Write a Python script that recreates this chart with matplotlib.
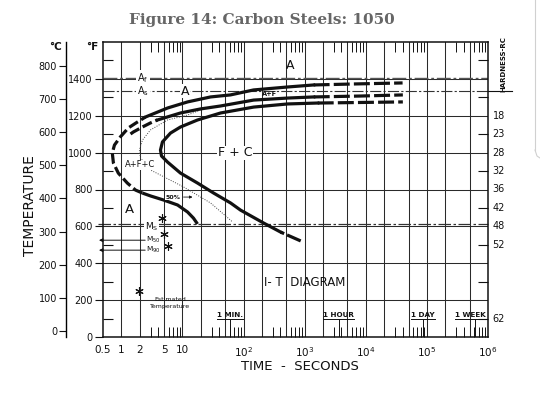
import matplotlib
matplotlib.use("Agg")
import matplotlib.pyplot as plt
from matplotlib.lines import Line2D

# ---------------- data (time in s, temperature in deg F) ----------------
# ferrite-start curve (outer curve)
fs_low_t = [17.6, 15.1, 12.1, 8.3, 4.9, 3.0, 2.2]
fs_low_T = [613, 645, 678, 716, 743, 765, 781]
fs_nose_t = [2.2, 1.7, 1.25, 0.89, 0.74, 0.71, 0.77, 0.96, 1.3, 1.83, 2.47]
fs_nose_T = [781, 797, 835, 889, 944, 998, 1041, 1085, 1134, 1166, 1193]
fs_up_t = [2.47, 5.7, 12.1, 28.8, 61, 146, 526, 1400]
fs_up_T = [1193, 1242, 1275, 1302, 1313, 1340, 1356, 1367]
fs_tail_t = [1400, 5700, 40000]
fs_tail_T = [1367, 1372, 1378]

# carbide-start curve (middle curve)
cs_dash_t = [1.41, 1.57, 2.21, 2.99, 3.89]
cs_dash_T = [1101, 1112, 1139, 1161, 1177]
cs_up_t = [3.89, 9.27, 19.7, 42, 146, 526, 1405]
cs_up_T = [1177, 1215, 1237, 1253, 1285, 1296, 1302]
cs_tail_t = [1405, 8280, 40400]
cs_tail_T = [1302, 1307, 1313]

# finish curve
fin_tail_t = [1633, 8280, 40400]
fin_tail_T = [1269, 1272, 1275]
fin_t = [1633, 526, 146, 42, 17.6, 9.27, 6.36, 4.70, 4.36, 4.53, 5.68, 9.27, 17.6, 32.2, 61.2, 89.3, 213, 404]
fin_T = [1269, 1264, 1247, 1215, 1177, 1139, 1106, 1058, 1014, 982, 949, 889, 835, 781, 727, 688, 618, 569]
fin_end_t = [404, 860]
fin_end_T = [569, 521]

# 50 % transformation (dotted)
half_t = [19.7, 12.1, 5.68, 2.99, 2.21, 1.97, 2.05, 2.99, 10.4, 28.8, 66]
half_T = [1231, 1204, 1177, 1123, 1068, 1014, 971, 906, 814, 727, 624]

# critical temperatures (deg F)
Af_T = 1405
As_T = 1334
Ms_T = 613
M50_T = 525
M90_T = 471

# estimated martensite temperatures (asterisks)
est_t = [4.7, 4.9, 5.9]
est_T = [645, 559, 494]
legend_star_t = [1.95]
legend_star_T = [249]

# axis tick values
x_tick_vals = [0.5, 1, 2, 5, 10, 1e2, 1e3, 1e4, 1e5, 1e6]
x_tick_labels = ["0.5", "1", "2", "5", "10", "10$^2$", "10$^3$", "10$^4$", "10$^5$", "10$^6$"]
f_ticks = [0, 200, 400, 600, 800, 1000, 1200, 1400]
c_ticks = [0, 100, 200, 300, 400, 500, 600, 700, 800]
hrc_vals = ["18", "23", "28", "32", "36", "42", "48", "52", "62"]
hrc_T = [1200, 1100, 1000, 900, 800, 700, 600, 500, 100]

# time markers
mark_t = [60, 3600, 86400, 604800]
mark_lab = ["1 MIN.", "1 HOUR", "1 DAY", "1 WEEK"]
mark_lab_t = [60, 3600, 86400, 510000]

# ---------------- figure ----------------
INK = "#111111"
GRID = "#2a2a2a"
plt.rcParams['font.family'] = ['DejaVu Sans']

W, H = 540, 393
fig = plt.figure(figsize=(W / 100, H / 100), dpi=100)
L, R, B, T = 103, 488, 337, 42
ax = fig.add_axes([L / W, 1 - B / H, (R - L) / W, (B - T) / H])
ax.set_xscale('log')
ax.set_xlim(0.5, 1e6)
ax.set_ylim(0, 1600)
for s in ax.spines.values():
    s.set_linewidth(1.1)
    s.set_color(INK)

# grid lines (1, 2, 5 per decade; every 200 F)
for k in range(0, 6):
    for m in (1, 2, 5):
        ax.axvline(m * 10 ** k, color=GRID, lw=0.75, zorder=1)
for g in range(200, 1600, 200):
    ax.axhline(g, color=GRID, lw=0.75, zorder=1)

# x ticks
ax.set_xticks(x_tick_vals)
ax.set_xticklabels(x_tick_labels)
minor_x = [m * 10 ** k for k in range(0, 6) for m in (3, 4, 6, 7, 8, 9)]
ax.set_xticks(minor_x, minor=True)
ax.xaxis.set_minor_formatter(plt.NullFormatter())
ax.tick_params(axis='x', which='major', length=0, labelsize=7.5, pad=6, colors=INK)
ax.tick_params(axis='x', which='minor', direction='in', length=7, width=0.7,
               top=True, bottom=True, colors=INK)

# y ticks (F)
ax.set_yticks(f_ticks)
ax.set_yticks(list(range(100, 1600, 200)), minor=True)
ax.yaxis.set_minor_formatter(plt.NullFormatter())
ax.tick_params(axis='y', which='major', direction='out', length=6, width=0.8,
               labelsize=7, pad=1.5, colors=INK)
ax.tick_params(axis='y', which='minor', direction='in', length=7, width=0.8,
               left=True, right=True, colors=INK)

# Celsius axis
sec = ax.secondary_yaxis(-0.096, functions=(lambda f: (f - 32) * 5 / 9,
                                             lambda c: c * 9 / 5 + 32))
sec.set_yticks(c_ticks)
sec.tick_params(direction='out', length=5, width=0.8, labelsize=7, pad=1.5, colors=INK)
sec.spines['left'].set_linewidth(1.0)

# hardness labels on right
for v, t in zip(hrc_vals, hrc_T):
    ax.text(1.012, t, v, transform=ax.get_yaxis_transform(), ha='left', va='center',
            fontsize=7, color=INK, clip_on=False)
fig.text(503 / W, 1 - 64 / H, "HARDNESS-RC", rotation=90, ha='center', va='center',
         fontsize=5, fontweight='bold', color=INK)
fig.add_artist(Line2D([488 / W, 512 / W], [1 - 91 / H, 1 - 91 / H], color=INK, lw=0.8))

# critical temperature lines
ax.axhline(Af_T, color="#555555", lw=1.0, ls=(0, (10, 2, 2, 2)), zorder=2)
ax.axhline(As_T, color="#333333", lw=0.8, ls=(0, (10, 2, 2, 2)), zorder=2)
ax.plot([0.42, 1e6], [Ms_T, Ms_T], color="#333333", lw=0.9, ls=(0, (10, 2, 2, 2)),
        zorder=2, clip_on=False)

# transformation curves
lw = 2.3
dash = (0, (3.2, 1.2))
ax.plot(fs_low_t, fs_low_T, color=INK, lw=lw, solid_capstyle='butt', zorder=4)
ax.plot(fs_nose_t, fs_nose_T, color=INK, lw=lw, ls=dash, zorder=4)
ax.plot(fs_up_t, fs_up_T, color=INK, lw=lw, zorder=4)
ax.plot(fs_tail_t, fs_tail_T, color=INK, lw=lw, ls=(0, (5, 1.3)), zorder=4)

ax.plot(cs_dash_t, cs_dash_T, color=INK, lw=lw, ls=dash, zorder=4)
ax.plot(cs_up_t, cs_up_T, color=INK, lw=lw, zorder=4)
ax.plot(cs_tail_t, cs_tail_T, color=INK, lw=lw, ls=(0, (5, 1.3)), zorder=4)

ax.plot(fin_t, fin_T, color=INK, lw=lw, zorder=4)
ax.plot(fin_tail_t, fin_tail_T, color=INK, lw=lw, ls=(0, (5, 1.3)), zorder=4)
ax.plot(fin_end_t, fin_end_T, color=INK, lw=lw, ls=(0, (1.2, 1.0, 8, 1)), zorder=4)

ax.plot(half_t, half_T, color="#444444", lw=0.7, ls=(0, (1, 1.5)), zorder=3)

# asterisks
ax.plot(est_t, est_T, ls='none', marker=(6, 2, 0), ms=6, mew=0.8, color=INK, zorder=5)
ax.plot(legend_star_t, legend_star_T, ls='none', marker=(6, 2, 0), ms=6, mew=0.8,
        color=INK, zorder=5)

# region labels
wb = dict(facecolor='white', edgecolor='none', pad=0.6)
ax.text(574, 1475, "A", fontsize=9, ha='center', va='center', color=INK)
ax.text(11, As_T, "A", fontsize=9, ha='center', va='center', color=INK, bbox=wb, zorder=3)
ax.text(270, 1320, "A+F", fontsize=4.8, ha='center', va='center', color=INK,
        fontweight='bold', zorder=5)
ax.text(72, 998, "F + C", fontsize=9, ha='center', va='center', color=INK, bbox=wb, zorder=3)
ax.text(2.02, 933, "A+F+C", fontsize=6, ha='center', va='center', color=INK, bbox=wb, zorder=3)
ax.text(1.38, 689, "A", fontsize=9.5, ha='center', va='center', color=INK)
ax.text(2.26, Af_T, "A$_\\mathrm{f}$", fontsize=7, ha='center', va='center', color=INK,
        bbox=wb, zorder=3)
ax.text(2.26, As_T, "A$_\\mathrm{s}$", fontsize=7, ha='center', va='center', color=INK,
        bbox=wb, zorder=3)
ax.text(3.1, 598, "M$_\\mathrm{S}$", fontsize=6.5, ha='center', va='center', color=INK,
        bbox=wb, zorder=3)
ax.text(3.3, M50_T, "M$_{50}$", fontsize=5.3, ha='center', va='center', color=INK)
ax.text(3.3, M90_T, "M$_{90}$", fontsize=5.3, ha='center', va='center', color=INK)
for tv in (M50_T, M90_T):
    ax.annotate("", xy=(0.43, tv), xytext=(2.45, tv), annotation_clip=False,
                arrowprops=dict(arrowstyle='-|>', lw=0.7, color=INK,
                                mutation_scale=5, shrinkA=0, shrinkB=0))
ax.text(7.05, 759, "50%", fontsize=4.5, ha='center', va='center', color=INK,
        fontweight='bold', bbox=wb, zorder=5)
ax.annotate("", xy=(14.6, 759), xytext=(10.4, 759),
            arrowprops=dict(arrowstyle='-|>', lw=0.6, color=INK, mutation_scale=4,
                            shrinkA=0, shrinkB=0), zorder=5)
ax.text(1000, 298, "I- T  DIAGRAM", fontsize=8.5, ha='center', va='center', color=INK)
ax.text(6.3, 184, "Estimated\nTemperature", fontsize=4.5, ha='center', va='center',
        color=INK, linespacing=1.3)

# time markers
mark_texts = []
for tl, lab in zip(mark_lab_t, mark_lab):
    mark_texts.append(ax.text(tl, 120, lab, fontsize=5.2, ha='center', va='center',
                              color=INK, fontweight='bold', zorder=5))

# axis labels and title
fig.text(300 / W, 1 - 367 / H, "TIME  -  SECONDS", fontsize=9.5, ha='center', va='center',
         color=INK)
fig.text(30 / W, 1 - 206 / H, "TEMPERATURE", fontsize=10, rotation=90, ha='center',
         va='center', color=INK)
fig.text(56 / W, 1 - 47 / H, "°C", fontsize=7.5, fontweight='bold', ha='center',
         va='center', color=INK)
fig.text(92 / W, 1 - 47 / H, "°F", fontsize=7.5, fontweight='bold', ha='center',
         va='center', color=INK)
fig.text(262 / W, 1 - 20 / H, "Figure 14: Carbon Steels: 1050", fontsize=11,
         fontweight='bold', family='DejaVu Serif', color="#666666",
         ha='center', va='center')

# UI artifact border at right edge
fig.add_artist(Line2D([535 / W, 535 / W], [1, 1 - 150 / H], color="#d0d0d0", lw=0.8))
fig.add_artist(Line2D([535 / W, 537 / W, 540 / W], [1 - 150 / H, 1 - 156 / H, 1 - 158 / H],
                      color="#d0d0d0", lw=0.8))

# underline + pointer for time markers
fig.canvas.draw()
inv = ax.transData.inverted()
for txt, t in zip(mark_texts, mark_t):
    bb = txt.get_window_extent()
    yline = bb.y0 - 1
    (x0, y0d) = inv.transform((bb.x0, yline))
    (x1, _) = inv.transform((bb.x1, yline))
    ax.plot([x0, x1], [y0d, y0d], color=INK, lw=0.7, zorder=5)
    ax.plot([t, t], [0, y0d], color=INK, lw=0.7, zorder=5)

fig.savefig("out.png", dpi=100)
